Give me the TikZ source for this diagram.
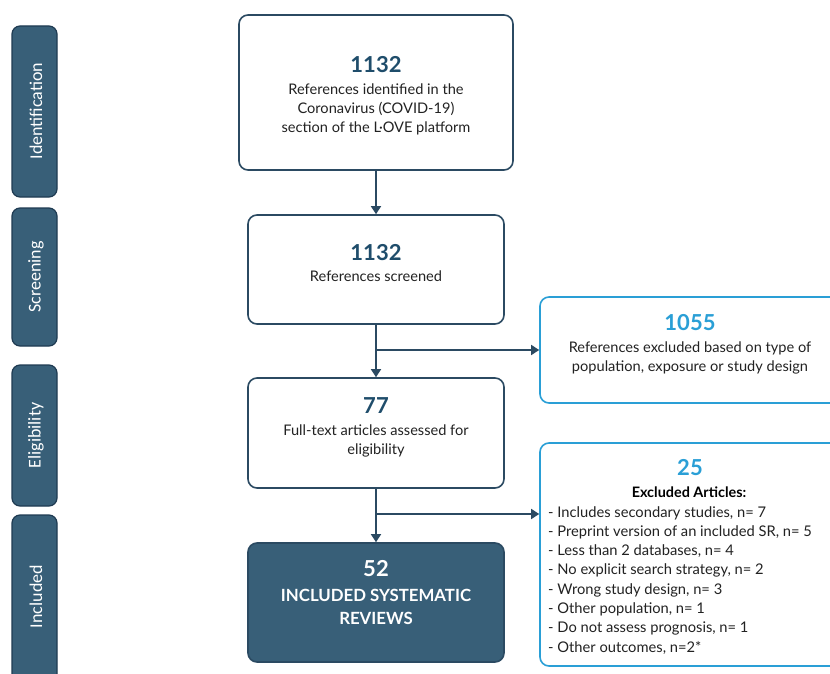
\documentclass[tikz,border=0pt]{standalone}
\usepackage{fontspec}
\setmainfont{Lato}
\newfontfamily\stagefont{Carlito}
\usetikzlibrary{arrows.meta}
\definecolor{navy}{HTML}{2B4A62}
\definecolor{tealfill}{HTML}{385F78}
\definecolor{tealedge}{HTML}{1F3B52}
\definecolor{sky}{HTML}{2A9FD6}
\definecolor{numblue}{HTML}{1F4D6B}
\definecolor{bodytext}{HTML}{222222}
\begin{document}
\begin{tikzpicture}[x=1pt,y=-1pt,
  stage/.style={draw=tealedge,fill=tealfill,line width=1.2pt,rounded corners=8pt,minimum width=45pt,inner sep=0pt},
  stagelabel/.style={text=white,font=\stagefont\fontsize{18}{20}\selectfont,rotate=90,inner sep=0pt},
  mainbox/.style={draw=navy,line width=1.6pt,rounded corners=9pt,fill=white,inner sep=0pt},
  exclbox/.style={draw=sky,line width=1.6pt,rounded corners=9pt,fill=white,inner sep=0pt},
  bignum/.style={anchor=base,inner sep=0pt,font=\fontsize{22}{24}\selectfont\bfseries,text=numblue},
  skynum/.style={anchor=base,inner sep=0pt,font=\fontsize{22}{24}\selectfont\bfseries,text=sky},
  body/.style={anchor=base,inner sep=0pt,font=\fontsize{14.6}{17}\selectfont,text=bodytext},
  listline/.style={anchor=base west,inner sep=0pt,font=\fontsize{14.7}{17}\selectfont,text=bodytext},
  arr/.style={draw=navy,line width=1.6pt,-{Triangle[width=10pt,length=8pt]}}]
\useasboundingbox (0,0) rectangle (830,674);
\clip (0,0) rectangle (830,674);

% stage boxes
\node[stage,minimum height=171pt] (sid) at (34.5,111.5) {};
\node[stage,minimum height=138pt] (ssc) at (34.5,277) {};
\node[stage,minimum height=141pt] (sel) at (34.5,435.5) {};
\node[stage,minimum height=168pt] (sin) at (34.5,599) {};
\node[stagelabel] (lid) at (36,111) {Identification};
\node[stagelabel] (lsc) at (36,277) {Screening};
\node[stagelabel] (lel) at (36,435.5) {Eligibility};
\node[stagelabel] (lin) at (36,596.5) {Included};

% main boxes
\node[mainbox,minimum width=274pt,minimum height=155pt] (b1) at (376,92.5) {};
\node[mainbox,minimum width=256pt,minimum height=109pt] (b2) at (376,269.5) {};
\node[mainbox,minimum width=256pt,minimum height=110pt] (b3) at (376,433) {};
\node[mainbox,fill=tealfill,minimum width=256pt,minimum height=119pt] (b4) at (376,602.5) {};
\node[exclbox,minimum width=300pt,minimum height=106pt] (b5) at (690,350) {};
\node[exclbox,minimum width=300pt,minimum height=223pt] (b6) at (690,554.5) {};

% box 1 text
\node[bignum] (n1) at (376,73) {1132};
\node[body] (t1a) at (376,95) {References identified in the};
\node[body] (t1b) at (376,114) {Coronavirus (COVID-19)};
\node[body] (t1c) at (376,133) {section of the L·OVE platform};

% box 2 text
\node[bignum] (n2) at (376,260) {1132};
\node[body] (t2a) at (376,281) {References screened};

% box 3 text
\node[bignum] (n3) at (376,413) {77};
\node[body] (t3a) at (376,435) {Full-text articles assessed for};
\node[body] (t3b) at (376,454) {eligibility};

% box 4 text
\node[bignum,text=white] (n4) at (376,576) {52};
\node[anchor=base,inner sep=0pt,font=\fontsize{16.8}{19}\selectfont\bfseries,text=white] (t4a) at (376,601) {INCLUDED SYSTEMATIC};
\node[anchor=base,inner sep=0pt,font=\fontsize{16.8}{19}\selectfont\bfseries,text=white] (t4b) at (376,624) {REVIEWS};

% box 5 text
\node[skynum] (n5) at (690,330) {1055};
\node[body] (t5a) at (690,352) {References excluded based on type of};
\node[body] (t5b) at (690,371) {population, exposure or study design};

% box 6 text
\node[skynum] (n6) at (690,475) {25};
\node[anchor=base,inner sep=0pt,font=\fontsize{14.4}{17}\selectfont\bfseries,text=black] (t6h) at (689,497) {Excluded Articles:};
\node[listline] (l1) at (548,517) {- Includes secondary studies, n= 7};
\node[listline] (l2) at (548,536.3) {- Preprint version of an included SR, n= 5};
\node[listline] (l3) at (548,555.6) {- Less than 2 databases, n= 4};
\node[listline] (l4) at (548,574.9) {- No explicit search strategy, n= 2};
\node[listline] (l5) at (548,594.2) {- Wrong study design, n= 3};
\node[listline] (l6) at (548,613.5) {- Other population, n= 1};
\node[listline] (l7) at (548,632.8) {- Do not assess prognosis, n= 1};
\node[listline] (l8) at (548,652.1) {- Other outcomes, n=2*};

% connectors
\draw[arr] (b1.south) -- (b2.north);
\draw[arr] (b2.south) -- (b3.north);
\draw[arr] (b3.south) -- (b4.north);
\coordinate (j1) at (376,350);
\coordinate (j2) at (376,514);
\draw[arr] (j1) -- (j1 -| b5.west);
\draw[arr] (j2) -- (j2 -| b6.west);
\end{tikzpicture}
\end{document}
